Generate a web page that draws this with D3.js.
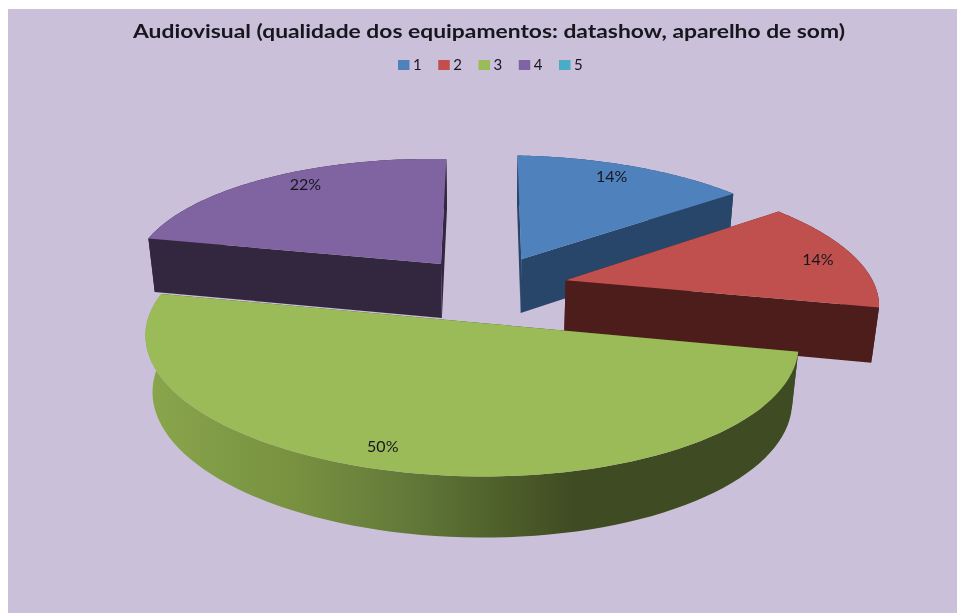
<!DOCTYPE html>
<html><head><meta charset="utf-8">
<script src="https://cdn.jsdelivr.net/npm/d3@7"></script>
<style>html,body{margin:0;padding:0;background:#fff}svg{display:block}text{font-family:Lato,"Open Sans",sans-serif;fill:#16161e}</style>
</head><body><div id="chart"></div>
<script>
const titleText = "Audiovisual (qualidade dos equipamentos: datashow, aparelho de som)";
const categories = ["1","2","3","4","5"];
const responses = [5,5,18,8,0];
const percentLabels = ["14%","14%","50%","22%",""];
const topColors = ["#4f81bd","#c0504d","#9bbb59","#8064a2","#4bacc6"];
const sideColors = ["#27466a","#4d1d1c","url(#greenWall)","#33263f","#255a66"];
const explosions = [0.26,0.26,0.28,0.24,0];
const labelAngleNudge = [-2,1,6,5,0];
const paintOrder = [0,3,1,2];

const W=957,H=613;
const svg=d3.select("#chart").append("svg").attr("width",W).attr("height",H);
const defs=svg.append("defs");
defs.append("filter").attr("id","soft").append("feGaussianBlur").attr("stdDeviation",0.45);
const g=defs.append("linearGradient").attr("id","greenWall").attr("gradientUnits","userSpaceOnUse")
  .attr("x1",146).attr("x2",795).attr("y1",0).attr("y2",0);
[[0,"#8aa64c"],[.24,"#76903f"],[.41,"#62783a"],[.49,"#566a2f"],[.66,"#3f4b22"],[1,"#3f4b22"]]
  .forEach(([o,c])=>g.append("stop").attr("offset",o).attr("stop-color",c));

svg.append("rect").attr("x",8).attr("y",9).attr("width",W-8).attr("height",H-9).attr("fill","#cac0da");

// camera
const cx=488,cy=287,R=312,Ry=124,persp=0.13,depth=56,conv=0.02,labelR=0.87,shear=0.018;
const project=(X,V,Z)=>{
  const s=1/(1+persp*V+conv*Z),x=R*X*s;
  return [cx+x,cy-Ry*V*s+depth*Z*s+shear*x];
};

const arcs=d3.pie().sort(null).value(d=>d)(responses);
const line=d3.line();
const plot=svg.append("g");
paintOrder.forEach(i=>{
  const a=arcs[i],mid=(a.startAngle+a.endAngle)/2,e=explosions[i];
  const ox=e*Math.sin(mid),ov=e*Math.cos(mid);
  const P=(t,Z,f=1)=>project(ox+f*Math.sin(t),ov+f*Math.cos(t),Z);
  const steps=d3.range(0,1.0001,1/80).map(k=>a.startAngle+k*(a.endAngle-a.startAngle));
  const ring=Z=>steps.map(t=>P(t,Z));
  const wall=[...ring(0),...ring(1).reverse()];
  [a.startAngle,a.endAngle].forEach(t=>{
    plot.append("path").attr("d",line([P(0,0,0),P(t,0),P(t,1),P(0,1,0)])+"Z")
      .attr("fill",i===2?"#3f4b22":sideColors[i]);
  });
  plot.append("path").attr("d",line(wall)+"Z").attr("fill",sideColors[i]);
  plot.append("path").attr("d",line([P(0,0,0),...ring(0)])+"Z").attr("fill",topColors[i]);
});

// percent labels
const labels=svg.append("g").attr("filter","url(#soft)");
arcs.forEach((a,i)=>{
  if(!percentLabels[i])return;
  const mid=(a.startAngle+a.endAngle)/2,t=mid+labelAngleNudge[i]*Math.PI/180,e=explosions[i];
  const p=project(e*Math.sin(mid)+labelR*Math.sin(t),e*Math.cos(mid)+labelR*Math.cos(t),0);
  labels.append("text").attr("x",p[0]).attr("y",p[1]).attr("dy","0.35em").attr("text-anchor","middle")
    .attr("font-size",16).text(percentLabels[i]);
});

// title and legend
const ink=svg.append("g").attr("filter","url(#soft)");
ink.append("text").attr("x",489).attr("y",38).attr("text-anchor","middle").attr("font-size",18)
  .attr("font-weight",700).attr("textLength",712).attr("lengthAdjust","spacingAndGlyphs").text(titleText);
const legendX=d3.scalePoint().domain(categories).range([398,559]);
categories.forEach((c,i)=>{
  ink.append("rect").attr("x",legendX(c)).attr("y",60).attr("width",11.5).attr("height",10).attr("fill",topColors[i]);
  ink.append("text").attr("x",legendX(c)+15).attr("y",70).attr("font-size",15).text(c);
});
</script></body></html>
